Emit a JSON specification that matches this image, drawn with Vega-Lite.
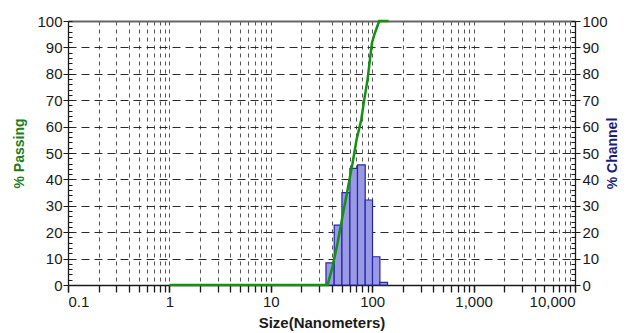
{
  "$schema": "https://vega.github.io/schema/vega-lite/v6.json",
  "width": 507,
  "height": 264,
  "autosize": "none",
  "padding": {"left": 68, "top": 21, "right": 57, "bottom": 48},
  "background": "white",
  "config": {
    "view": {"stroke": null},
    "axis": {
      "labelFont": "Liberation Sans",
      "titleFont": "Liberation Sans",
      "labelFontSize": 15,
      "labelColor": "#1a1a1a",
      "tickColor": "#1a1a1a",
      "domainColor": "#1a1a1a",
      "grid": false
    }
  },
  "datasets": {
    "bins": [
      {"lo": 35.0, "hi": 42.2, "pct": 8.4},
      {"lo": 42.2, "hi": 50.3, "pct": 22.7},
      {"lo": 50.3, "hi": 60.3, "pct": 35.0},
      {"lo": 60.3, "hi": 71.6, "pct": 44.2},
      {"lo": 71.6, "hi": 85.3, "pct": 45.5},
      {"lo": 85.3, "hi": 100.7, "pct": 32.2},
      {"lo": 100.7, "hi": 119.1, "pct": 10.7},
      {"lo": 119.1, "hi": 141.5, "pct": 1.0}
    ],
    "cum": [
      {"size": 1, "pct": 0},
      {"size": 36.3, "pct": 0},
      {"size": 40.6, "pct": 6.9},
      {"size": 45.5, "pct": 15.8},
      {"size": 50.9, "pct": 25.9},
      {"size": 57.1, "pct": 36.0},
      {"size": 64.0, "pct": 46.1},
      {"size": 70.0, "pct": 54.9},
      {"size": 77.9, "pct": 62.5},
      {"size": 83.4, "pct": 70.1},
      {"size": 89.9, "pct": 77.7},
      {"size": 94.9, "pct": 85.2},
      {"size": 99.3, "pct": 91.6},
      {"size": 104.7, "pct": 94.7},
      {"size": 117.2, "pct": 100},
      {"size": 144.8, "pct": 100}
    ]
  },
  "resolve": {"scale": {"y": "independent"}, "axis": {"x": "independent", "y": "independent"}},
  "layer": [
    {
      "data": {"name": "bins"},
      "mark": {"type": "point", "opacity": 0},
      "encoding": {
        "x": {
          "field": "lo", "type": "quantitative",
          "scale": {"type": "log", "domain": [0.1, 10000], "nice": false},
          "axis": {
            "orient": "bottom", "title": null, "labels": false, "domain": false,
            "grid": true, "gridDash": [4, 4], "gridColor": "#555555", "gridOpacity": 1,
            "tickSize": 7, "tickWidth": 1.3,
            "values": [0.1,0.2,0.3,0.4,0.5,0.6,0.7,0.8,0.9,1,2,3,4,5,6,7,8,9,10,20,30,40,50,60,70,80,90,100,200,300,400,500,600,700,800,900,1000,2000,3000,4000,5000,6000,7000,8000,9000,10000]
          }
        },
        "y": {
          "field": "pct", "type": "quantitative",
          "scale": {"domain": [0, 100], "nice": false, "zero": true},
          "axis": {
            "orient": "left", "title": null, "labels": false, "domain": false, "ticks": false,
            "grid": true, "gridDash": [8, 5], "gridColor": "#2a2a2a", "gridOpacity": 1,
            "values": [10, 20, 30, 40, 50, 60, 70, 80, 90]
          }
        }
      }
    },
    {
      "data": {"name": "bins"},
      "mark": {"type": "rect", "fill": "#9a9ae4", "stroke": "#2626a8", "strokeWidth": 1.2},
      "encoding": {
        "x": {"field": "lo", "type": "quantitative", "scale": {"type": "log", "domain": [0.1, 10000], "nice": false}, "axis": null},
        "x2": {"field": "hi"},
        "y": {
          "field": "pct", "type": "quantitative",
          "scale": {"domain": [0, 100], "nice": false, "zero": true},
          "axis": {
            "orient": "right", "title": "% Channel", "titleColor": "#1c1c78",
            "titleFontSize": 14, "titleFontWeight": "bold", "titleAngle": 270, "titlePadding": 12,
            "values": [0, 10, 20, 30, 40, 50, 60, 70, 80, 90, 100],
            "tickSize": 5, "labelPadding": 2, "domainWidth": 1.3
          }
        },
        "y2": {"datum": 0}
      }
    },
    {
      "data": {"name": "cum"},
      "mark": {"type": "line", "color": "#129112", "strokeWidth": 2.5},
      "encoding": {
        "x": {
          "field": "size", "type": "quantitative",
          "scale": {"type": "log", "domain": [0.1, 10000], "nice": false},
          "axis": {
            "orient": "bottom", "title": "Size(Nanometers)", "titleFontSize": 15, "titleFontWeight": "bold",
            "titleColor": "#1a1a1a", "titlePadding": 6,
            "values": [0.1, 1, 10, 100, 1000, 10000], "format": ",",
            "tickSize": 7, "tickWidth": 1.3, "labelPadding": 2, "domainWidth": 1.5
          }
        },
        "y": {
          "field": "pct", "type": "quantitative",
          "scale": {"domain": [0, 100], "nice": false, "zero": true},
          "axis": {
            "orient": "left", "title": "% Passing", "titleColor": "#1e7b1e",
            "titleFontSize": 14, "titleFontWeight": "bold", "titlePadding": 10,
            "values": [0, 10, 20, 30, 40, 50, 60, 70, 80, 90, 100],
            "tickSize": 5, "labelPadding": 1, "domainWidth": 1.3
          }
        }
      }
    },
    {
      "data": {"name": "bins"},
      "mark": {"type": "point", "opacity": 0},
      "encoding": {
        "x": {
          "field": "lo", "type": "quantitative",
          "scale": {"type": "log", "domain": [0.1, 10000], "nice": false},
          "axis": {"orient": "top", "title": null, "labels": false, "ticks": false, "domainColor": "#666666", "domainWidth": 2}
        },
        "y": {
          "field": "pct", "type": "quantitative",
          "scale": {"domain": [0, 100], "nice": false, "zero": true},
          "axis": {
            "orient": "left", "title": null, "labels": false, "domain": false,
            "tickSize": -4, "values": [0,2,4,6,8,10,12,14,16,18,20,22,24,26,28,30,32,34,36,38,40,42,44,46,48,50,52,54,56,58,60,62,64,66,68,70,72,74,76,78,80,82,84,86,88,90,92,94,96,98,100]
          }
        }
      }
    },
    {
      "data": {"name": "bins"},
      "mark": {"type": "point", "opacity": 0},
      "encoding": {
        "x": {"field": "lo", "type": "quantitative", "scale": {"type": "log", "domain": [0.1, 10000], "nice": false}, "axis": null},
        "y": {
          "field": "pct", "type": "quantitative",
          "scale": {"domain": [0, 100], "nice": false, "zero": true},
          "axis": {
            "orient": "right", "title": null, "labels": false, "domain": false,
            "tickSize": -4, "values": [0,2,4,6,8,10,12,14,16,18,20,22,24,26,28,30,32,34,36,38,40,42,44,46,48,50,52,54,56,58,60,62,64,66,68,70,72,74,76,78,80,82,84,86,88,90,92,94,96,98,100]
          }
        }
      }
    }
  ]
}
